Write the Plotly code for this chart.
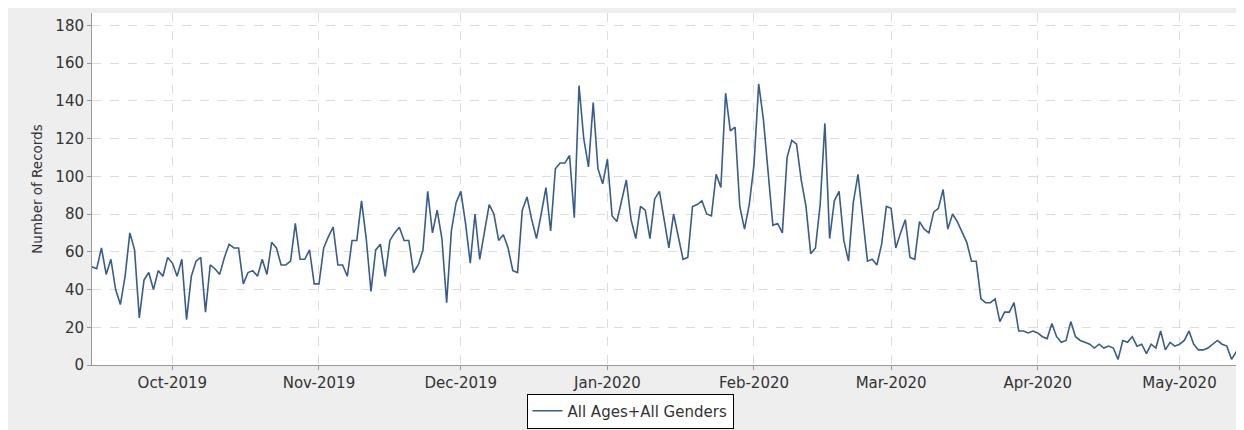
import pandas as pd
import plotly.graph_objects as go

start_date = "2019-09-14"
series_name = "All Ages+All Genders"
records = [
    52, 51, 62, 48, 56, 40, 32, 47, 70, 61, 25, 45, 49, 40, 50, 47, 57, 54, 47, 56, 24, 47, 55, 57, 28,
    53, 51, 48, 57, 64, 62, 62, 43, 49, 50, 47, 56, 48, 65, 62, 53, 53, 55, 75, 56, 56, 61, 43, 43,
    62, 68, 73, 53, 53, 47, 66, 66, 87, 67, 39, 61, 64, 47, 66, 70, 73, 66, 66, 49, 53, 61, 92,
    70, 82, 67, 33, 71, 86, 92, 75, 54, 80, 56, 71, 85, 80, 66, 69, 62, 50, 49, 82, 89, 77, 67,
    80, 94, 71, 104, 107, 107, 111, 78, 148, 120, 105, 139, 104, 96, 109, 79, 76, 87, 98, 77, 67, 84, 82, 67,
    88, 92, 78, 62, 80, 67, 56, 57, 84, 85, 87, 80, 79, 101, 94, 144, 124, 126, 84, 72, 85, 106, 149,
    130, 103, 74, 75, 70, 110, 119, 117, 98, 84, 59, 62, 85, 128, 67, 87, 92, 66, 55, 86, 101, 78, 55,
    56, 53, 64, 84, 83, 62, 70, 77, 57, 56, 76, 72, 70, 81, 83, 93, 72, 80, 76, 70, 65, 55, 55,
    35, 33, 33, 35, 23, 28, 28, 33, 18, 18, 17, 18, 17, 15, 14, 22, 15, 12, 13, 23, 15, 13, 12, 11, 9, 11, 9, 10,
    9, 3, 13, 12, 15, 10, 11, 6, 11, 9, 18, 8, 12, 10, 11, 13, 18, 11, 8, 8, 9, 11, 13, 11, 10, 3, 7, 9,
]
dates = pd.date_range(start_date, periods=len(records), freq="D")
y_ticks = [0, 20, 40, 60, 80, 100, 120, 140, 160, 180]

FONT = "DejaVu Sans"
# page has an 8px body margin, so the figure is 8px smaller on each axis
W, H = 1236, 422
L, R, T, B = 84, 3, 5, 65
TXT = "#333333"

fig = go.Figure()
fig.add_trace(go.Scatter(
    x=dates, y=records, mode="lines", name=series_name,
    line=dict(color="#385c8c", width=1.6),
))

fig.update_layout(
    width=W, height=H,
    margin=dict(l=L, r=R, t=T, b=B, autoexpand=False),
    paper_bgcolor="#eeeeee",
    plot_bgcolor="white",
    font=dict(family=FONT, size=15, color=TXT),
    showlegend=True,
    legend=dict(
        orientation="h",
        xref="container", x=(630 - 8) / W, xanchor="center",
        yref="container", y=1 - (411 - 8) / H, yanchor="middle",
        bgcolor="white", bordercolor="#000000", borderwidth=1,
        font=dict(family=FONT, size=15, color=TXT),
        itemwidth=30,
    ),
)

fig.update_xaxes(
    range=[dates[0], dates[-1]],
    tickformat="%b-%Y", dtick="M1", tick0="2019-10-01",
    ticks="outside", ticklen=4, tickcolor="#999999",
    showline=True, linecolor="#999999", linewidth=1,
    showgrid=True, gridcolor="#dcdcdc", griddash="dash", gridwidth=1,
    zeroline=False, automargin=False,
    tickfont=dict(family=FONT, size=15, color=TXT),
)
fig.update_yaxes(
    range=[0, 186.5],
    tickvals=y_ticks,
    ticks="outside", ticklen=4, tickcolor="#999999",
    showline=True, linecolor="#999999", linewidth=1,
    showgrid=True, gridcolor="#dcdcdc", griddash="dash", gridwidth=1,
    zeroline=False, automargin=False,
    title=dict(text="Number of Records", font=dict(family=FONT, size=13.5, color=TXT), standoff=9),
    tickfont=dict(family=FONT, size=15, color=TXT),
)

fig.write_html("out.html")
